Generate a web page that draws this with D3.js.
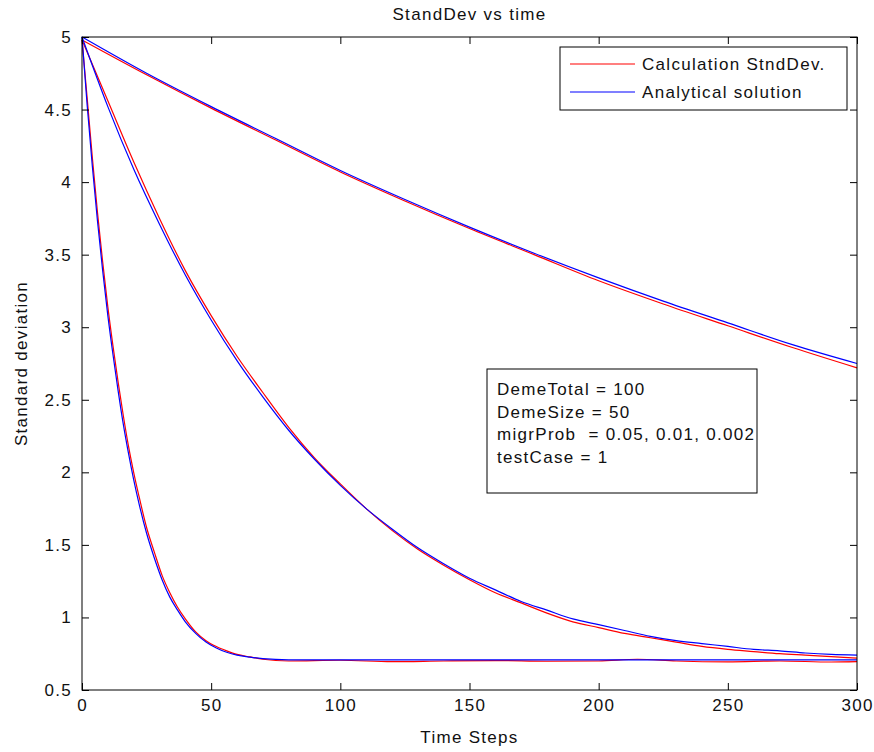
<!DOCTYPE html>
<html>
<head>
<meta charset="utf-8">
<script src="https://cdn.jsdelivr.net/npm/d3@7"></script>
<style>
  body{ margin:0; background:#fff; }
  svg text{ font-family:'Liberation Sans', Arial, sans-serif; fill:#111; }
</style>
</head>
<body>
<svg id="chart" width="874" height="752" viewBox="0 0 874 752"></svg>
<script>
// x axis ticks / y axis ticks
const xTicks = [0, 50, 100, 150, 200, 250, 300];
const yTicks = [0.5, 1, 1.5, 2, 2.5, 3, 3.5, 4, 4.5, 5];

// migrProb = 0.05
const timeFast = [0,2,4,6,8,10,12,14,16,18,20,22,25,28,31,34,37,40,44,48,52,56,60,65,70,80,100,120,140,160,180,200,215,230,250,270,290,300];
const calcFast = [4.98,4.58,4.17,3.79,3.45,3.14,2.87,2.62,2.39,2.18,2.00,1.84,1.62,1.45,1.29,1.17,1.07,0.99,0.90,0.84,0.80,0.77,0.745,0.728,0.712,0.700,0.705,0.695,0.700,0.703,0.698,0.700,0.712,0.700,0.694,0.700,0.693,0.695];
const analFast = [5.00,4.53,4.11,3.73,3.39,3.08,2.81,2.56,2.33,2.13,1.95,1.79,1.58,1.41,1.26,1.14,1.05,0.97,0.89,0.83,0.79,0.76,0.74,0.726,0.716,0.708,0.707,0.707,0.707,0.707,0.707,0.707,0.707,0.707,0.707,0.707,0.707,0.707];

// migrProb = 0.01
const timeMid = [0,10,20,30,40,50,60,70,80,90,100,110,120,130,140,150,160,170,180,190,200,210,220,230,240,250,260,270,280,290,300];
const calcMid = [4.98,4.56,4.14,3.75,3.39,3.08,2.80,2.55,2.31,2.10,1.92,1.75,1.60,1.47,1.36,1.26,1.17,1.10,1.03,0.97,0.93,0.89,0.86,0.83,0.80,0.78,0.765,0.75,0.74,0.73,0.72];
const analMid = [5.00,4.52,4.09,3.71,3.36,3.05,2.77,2.52,2.29,2.09,1.91,1.75,1.61,1.48,1.37,1.27,1.19,1.11,1.05,0.99,0.95,0.91,0.87,0.84,0.82,0.80,0.78,0.77,0.755,0.745,0.74];

// migrProb = 0.002
const timeSlow = [0,25,50,75,100,125,150,175,200,225,250,275,300];
const calcSlow = [4.98,4.74,4.51,4.29,4.07,3.87,3.68,3.50,3.32,3.16,3.01,2.86,2.72];
const analSlow = [5.00,4.75,4.52,4.30,4.08,3.88,3.69,3.51,3.34,3.18,3.03,2.88,2.75];

const legendLabels = ['Calculation StndDev.', 'Analytical solution'];
const infoLines = ['DemeTotal = 100', 'DemeSize = 50', 'migrProb  = 0.05, 0.01, 0.002', 'testCase = 1'];

(function(){
  const svg = d3.select('#chart');
  const left = 82, right = 857, top = 37, bottom = 690;
  const RED = '#ff0000', BLUE = '#0000ff';
  const fontSize = '17px', spacing = '1.3px';

  const x = d3.scaleLinear().domain([0, 300]).range([left, right]);
  const y = d3.scaleLinear().domain([0.5, 5]).range([bottom, top]);
  const fmt = d => String(d);

  // series: red drawn first, blue on top
  const pairs = [
    [timeSlow, calcSlow, RED], [timeMid, calcMid, RED], [timeFast, calcFast, RED],
    [timeSlow, analSlow, BLUE], [timeMid, analMid, BLUE], [timeFast, analFast, BLUE]
  ];
  const line = d3.line().x(d => x(d[0])).y(d => y(d[1])).curve(d3.curveMonotoneX);
  const gLines = svg.append('g');
  pairs.forEach(([t, v, c]) => {
    gLines.append('path')
      .datum(t.map((tt, i) => [tt, v[i]]))
      .attr('d', line)
      .attr('fill', 'none')
      .attr('stroke', c)
      .attr('stroke-width', 1.2);
  });

  // axes, ticks inside, mirrored (box on)
  const tickLen = 7;
  const axisStyle = g => {
    g.select('.domain').remove();
    g.selectAll('.tick line').attr('stroke', '#000');
    g.selectAll('.tick text').attr('font-size', fontSize).attr('letter-spacing', spacing).attr('fill', '#111');
  };
  svg.append('g').attr('transform', `translate(0,${bottom})`)
    .call(d3.axisBottom(x).tickValues(xTicks).tickFormat(fmt).tickSizeInner(-tickLen).tickPadding(9))
    .call(axisStyle);
  svg.append('g').attr('transform', `translate(0,${top})`)
    .call(d3.axisTop(x).tickValues(xTicks).tickFormat('').tickSizeInner(-tickLen))
    .call(axisStyle);
  svg.append('g').attr('transform', `translate(${left},0)`)
    .call(d3.axisLeft(y).tickValues(yTicks).tickFormat(fmt).tickSizeInner(-tickLen).tickPadding(10))
    .call(axisStyle);
  svg.append('g').attr('transform', `translate(${right},0)`)
    .call(d3.axisRight(y).tickValues(yTicks).tickFormat('').tickSizeInner(-tickLen))
    .call(axisStyle);
  svg.selectAll('.tick text').attr('font-family', "'Liberation Sans', Arial, sans-serif");

  svg.append('rect')
    .attr('x', left).attr('y', top).attr('width', right - left).attr('height', bottom - top)
    .attr('fill', 'none').attr('stroke', '#000').attr('stroke-width', 1);

  // titles
  svg.append('text').text('StandDev vs time')
    .attr('x', (left + right) / 2).attr('y', 20).attr('text-anchor', 'middle')
    .attr('font-size', fontSize).attr('letter-spacing', spacing);
  svg.append('text').text('Time Steps')
    .attr('x', (left + right) / 2).attr('y', 743).attr('text-anchor', 'middle')
    .attr('font-size', fontSize).attr('letter-spacing', spacing);
  svg.append('text').text('Standard deviation')
    .attr('transform', `translate(27,${(top + bottom) / 2}) rotate(-90)`)
    .attr('text-anchor', 'middle')
    .attr('font-size', fontSize).attr('letter-spacing', spacing);

  // legend
  const legend = svg.append('g');
  legend.append('rect').attr('x', 560).attr('y', 47).attr('width', 287).attr('height', 63)
    .attr('fill', '#fff').attr('stroke', '#000');
  [RED, BLUE].forEach((c, i) => {
    const yy = 64 + i * 28;
    legend.append('line').attr('x1', 570).attr('x2', 635).attr('y1', yy).attr('y2', yy)
      .attr('stroke', c).attr('stroke-width', 1.2);
    legend.append('text').text(legendLabels[i]).attr('x', 642).attr('y', yy + 6)
      .attr('font-size', fontSize).attr('letter-spacing', spacing);
  });

  // info box
  const info = svg.append('g');
  info.append('rect').attr('x', 487).attr('y', 369).attr('width', 270).attr('height', 124)
    .attr('fill', '#fff').attr('stroke', '#000');
  infoLines.forEach((s, i) => {
    info.append('text').text(s).attr('x', 497).attr('y', 395 + i * 22.5)
      .attr('font-size', fontSize).attr('letter-spacing', spacing)
      .style('white-space', 'pre');
  });
})();
</script>
</body>
</html>
